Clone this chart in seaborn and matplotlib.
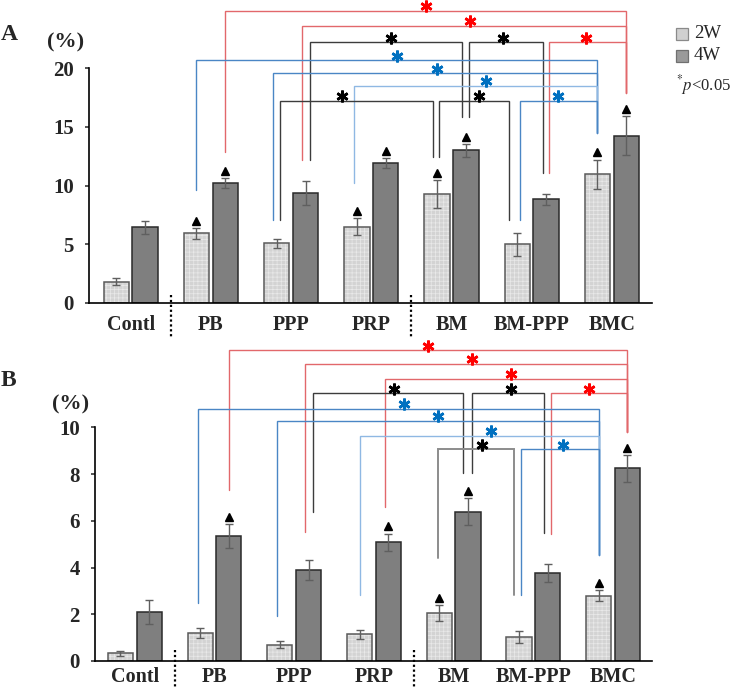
import numpy as np
import pandas as pd
import matplotlib
matplotlib.use("Agg")
import matplotlib.pyplot as plt
import seaborn as sns
from matplotlib.transforms import offset_copy
from matplotlib.patches import Rectangle
from matplotlib.colors import to_rgba

# ---------------- data ----------------
groups = ["Contl", "PB", "PPP", "PRP", "BM", "BM-PPP", "BMC"]
periods = ["2W", "4W"]

a_2w = [1.8, 5.93, 5.08, 6.5, 9.25, 5.0, 10.95]
a_2w_err = [0.3, 0.45, 0.4, 0.7, 1.19, 0.96, 1.25]
a_4w = [6.45, 10.2, 9.36, 11.9, 13.0, 8.82, 14.24]
a_4w_err = [0.55, 0.4, 1.0, 0.42, 0.54, 0.48, 1.65]

b_2w = [0.33, 1.2, 0.7, 1.14, 2.04, 1.03, 2.8]
b_2w_err = [0.1, 0.2, 0.15, 0.2, 0.34, 0.24, 0.24]
b_4w = [2.1, 5.36, 3.89, 5.08, 6.39, 3.78, 8.24]
b_4w_err = [0.5, 0.51, 0.43, 0.37, 0.57, 0.38, 0.57]

# bars marked with a triangle (vs control)
a_marked = [("PB", "2W"), ("PB", "4W"), ("PRP", "2W"), ("PRP", "4W"),
            ("BM", "2W"), ("BM", "4W"), ("BMC", "2W"), ("BMC", "4W")]
b_marked = [("PB", "4W"), ("PRP", "4W"), ("BM", "2W"), ("BM", "4W"),
            ("BMC", "2W"), ("BMC", "4W")]

# significance brackets: (group1, period1, nudge1, drop1, group2, period2, nudge2, drop2,
#                         height, line colour, star colour, star position fraction)
RED_L, RED_S = "#e2686b", "#ff0000"
BLU_L, BLU_S = "#4a86c5", "#0070c0"
LBL_L = "#8fb8e3"
BLK_L, BLK_S = "#3c3c3c", "#000000"
GRY_L = "#8c8c8c"

a_brackets = [
    ("PB", "4W", 0.0, 12.88, "BMC", "4W", 0.0, 17.9, 24.85, RED_L, RED_S, 0.50),
    ("PPP", "4W", -0.05, 12.17, "BMC", "4W", 0.0, 17.9, 23.57, RED_L, RED_S, 0.52),
    ("PPP", "4W", 0.06, 12.17, "BM", "4W", -0.05, 15.86, 22.19, BLK_L, BLK_S, 0.53),
    ("BM", "4W", 0.04, 15.86, "BM-PPP", "4W", -0.045, 11.06, 22.19, BLK_L, BLK_S, 0.46),
    ("BM-PPP", "4W", 0.03, 11.06, "BMC", "4W", 0.0, 17.9, 22.19, RED_L, RED_S, 0.48),
    ("PB", "2W", 0.0, 9.6, "BMC", "2W", 0.0, 14.44, 20.66, BLU_L, BLU_S, 0.50),
    ("PPP", "2W", -0.045, 7.06, "BMC", "2W", 0.0, 14.44, 19.55, BLU_L, BLU_S, 0.505),
    ("PRP", "2W", -0.03, 10.24, "BMC", "2W", 0.0, 14.44, 18.47, LBL_L, BLU_S, 0.54),
    ("PPP", "2W", 0.045, 7.06, "BM", "2W", -0.055, 12.45, 17.19, BLK_L, BLK_S, 0.405),
    ("BM", "2W", 0.025, 12.45, "BM-PPP", "2W", -0.1, 7.06, 17.19, BLK_L, BLK_S, 0.57),
    ("BM-PPP", "2W", 0.03, 7.06, "BMC", "2W", 0.0, 14.44, 17.19, BLU_L, BLU_S, 0.49),
]
b_brackets = [
    ("PB", "4W", 0.0, 7.32, "BMC", "4W", 0.0, 9.81, 13.29, RED_L, RED_S, 0.50),
    ("PPP", "4W", -0.05, 5.53, "BMC", "4W", 0.0, 9.81, 12.72, RED_L, RED_S, 0.52),
    ("PRP", "4W", -0.04, 6.60, "BMC", "4W", 0.0, 9.81, 12.08, RED_L, RED_S, 0.52),
    ("PPP", "4W", 0.05, 6.39, "BM", "4W", -0.06, 8.06, 11.45, BLK_L, BLK_S, 0.54),
    ("BM", "4W", 0.05, 8.06, "BM-PPP", "4W", -0.05, 5.46, 11.45, BLK_L, BLK_S, 0.54),
    ("BM-PPP", "4W", 0.04, 5.43, "BMC", "4W", 0.0, 9.81, 11.45, RED_L, RED_S, 0.50),
    ("PB", "2W", -0.03, 2.47, "BMC", "2W", 0.0, 4.54, 10.80, BLU_L, BLU_S, 0.515),
    ("PPP", "2W", -0.04, 1.93, "BMC", "2W", 0.0, 4.54, 10.27, BLU_L, BLU_S, 0.50),
    ("PRP", "2W", 0.0, 2.82, "BMC", "2W", 0.0, 4.54, 9.63, LBL_L, BLU_S, 0.55),
    ("BM", "2W", -0.02, 4.39, "BM-PPP", "2W", -0.06, 2.82, 9.06, GRY_L, BLK_S, 0.58),
    ("BM-PPP", "2W", 0.03, 2.82, "BMC", "2W", 0.0, 4.54, 9.06, BLU_L, BLU_S, 0.54),
]

separators = [0.5, 3.5]

# ---------------- style ----------------
sns.set_style("white")
plt.rcParams["font.family"] = ["Liberation Serif", "DejaVu Serif"]
plt.rcParams["mathtext.fontset"] = "stix"
plt.rcParams["hatch.linewidth"] = 0.5

COL_2W = "#d3d3d3"
COL_4W = "#7f7f7f"

fig = plt.figure(figsize=(7.31, 6.88), dpi=100)
W, H = 731.0, 688.0


def make_panel(rect, v2, e2, v4, e4, marked, brackets, ymax, ylim_top, yticks,
               xlim, xpad, sep_span):
    ax = fig.add_axes(rect)
    df = pd.DataFrame({
        "group": groups * 2,
        "period": ["2W"] * len(groups) + ["4W"] * len(groups),
        "value": list(v2) + list(v4),
        "err": list(e2) + list(e4),
    })
    sns.barplot(data=df, x="group", y="value", hue="period", order=groups,
                hue_order=periods, palette={"2W": COL_2W, "4W": COL_4W},
                saturation=1, width=0.72, gap=0.12, errorbar=None,
                legend=False, ax=ax, zorder=2)
    pos = {}
    top = {}
    for cont, per in zip(ax.containers, periods):
        for p in cont.patches:
            cx = p.get_x() + p.get_width() / 2
            g = groups[int(round(cx))]
            pos[(g, per)] = cx
            if per == "2W":
                p.set_edgecolor("#5a5a5a")
                p.set_linewidth(1.1)
                p.set_hatch("++++")
                p._hatch_color = to_rgba("#e9e9e9")
            else:
                p.set_edgecolor("#2a2a2a")
                p.set_linewidth(1.1)
    # error bars
    for per, vals, errs in (("2W", v2, e2), ("4W", v4, e4)):
        xs = [pos[(g, per)] for g in groups]
        ax.errorbar(xs, vals, yerr=errs, fmt="none", ecolor="#5f5f5f",
                    elinewidth=1.0, capsize=2.6, capthick=1.0, zorder=3)
        for g, v, e in zip(groups, vals, errs):
            top[(g, per)] = v + e
    # triangles
    tri_tr = offset_copy(ax.transData, fig=fig, y=5.2, units="points")
    for g, per in marked:
        ax.plot(pos[(g, per)], top[(g, per)], marker="^", color="black",
                markersize=6.2, transform=tri_tr, clip_on=False, zorder=4)
    # brackets
    star_tr = offset_copy(ax.transData, fig=fig, y=3.4, units="points")
    for (g1, p1, n1, d1, g2, p2, n2, d2, h, lc, sc, frac) in brackets:
        x1 = pos[(g1, p1)] + n1
        x2 = pos[(g2, p2)] + n2
        lw = 1.4 if lc == GRY_L else 1.0
        ax.plot([x1, x1, x2, x2], [d1, h, h, d2], color=lc, lw=lw,
                clip_on=False, zorder=1, solid_joinstyle="miter")
        sx = x1 + frac * (x2 - x1)
        ax.plot(sx, h, marker=(6, 2, 0), color=sc, markersize=8.5,
                markeredgewidth=1.9, transform=star_tr, clip_on=False, zorder=5)
    # dotted separators
    for s in separators:
        ax.plot([s, s], sep_span, color="black", lw=1.6, ls=(0, (1, 1.2)),
                clip_on=False, zorder=4)
    ax.set_xlim(*xlim)
    ax.set_ylim(0, ylim_top)
    ax.set_yticks(yticks)
    ax.set_yticklabels([str(t) for t in yticks], fontsize=15, fontweight="bold")
    ax.set_xticks(range(len(groups)))
    ax.set_xticklabels(groups, fontsize=14.5, fontweight="bold")
    ax.tick_params(axis="x", length=0, pad=xpad)
    ax.tick_params(axis="y", length=3, width=1.1, pad=8, direction="out",
                   left=True)
    ax.set_xlabel("")
    ax.set_ylabel("")
    for side in ("top", "right"):
        ax.spines[side].set_visible(False)
    ax.spines["left"].set_bounds(0, ymax)
    ax.spines["left"].set_linewidth(1.2)
    ax.spines["bottom"].set_linewidth(1.2)
    ax.spines["left"].set_color("black")
    ax.spines["bottom"].set_color("black")
    ax.patch.set_alpha(0)
    return ax


# panel A
rectA = [89 / W, 1 - 303 / H, (652 - 89) / W, (303 - 2) / H]
make_panel(rectA, a_2w, a_2w_err, a_4w, a_4w_err, a_marked, a_brackets,
           20, 301 / 11.75, [0, 5, 10, 15, 20], (-0.52, 6.5), 8.5, [0.7, -3.0])

# panel B
rectB = [95 / W, 1 - 661 / H, (652 - 95) / W, (661 - 336) / H]
make_panel(rectB, b_2w, b_2w_err, b_4w, b_4w_err, b_marked, b_brackets,
           10, 325 / 23.37, [0, 2, 4, 6, 8, 10], (-0.5, 6.49), 4.0, [0.47, -1.3])

# panel letters & units
fig.text(1 / W, 1 - 34 / H, "A", fontsize=17, fontweight="bold", va="center", ha="left")
fig.text(66 / W, 1 - 42 / H, "(%)", fontsize=16, fontweight="bold", va="center", ha="center")
fig.text(1 / W, 1 - 380 / H, "B", fontsize=17, fontweight="bold", va="center", ha="left")
fig.text(71 / W, 1 - 404 / H, "(%)", fontsize=16, fontweight="bold", va="center", ha="center")

# legend
for (label, fc, ec, yc) in (("2W", "#d0d0d0", "#8a8a8a", 34), ("4W", "#9a9a9a", "#707070", 56)):
    fig.add_artist(Rectangle(((676) / W, 1 - (yc + 6) / H), 12 / W, 12 / H,
                             transform=fig.transFigure, facecolor=fc,
                             edgecolor=ec, lw=0.9))
    fig.text(694 / W, 1 - yc / H, label, fontsize=13.5, va="center", ha="left")
fig.text(676 / W, 1 - 85 / H, r"$^{*}p$<0.05", fontsize=12, va="center", ha="left")

fig.savefig("out.png", dpi=100)
